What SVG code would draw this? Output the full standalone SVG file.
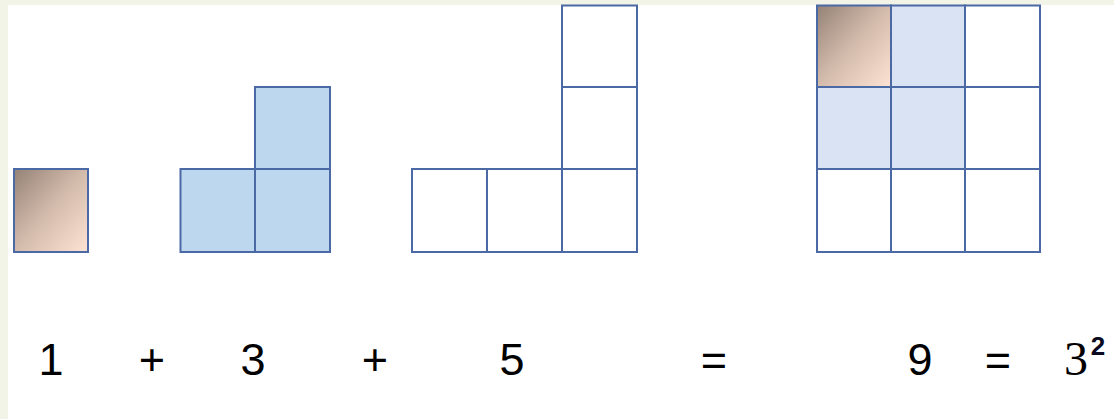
<svg xmlns="http://www.w3.org/2000/svg" width="1114" height="419" viewBox="0 0 1114 419">
<defs>
<linearGradient id="tan" x1="0" y1="0" x2="1" y2="1">
<stop offset="0" stop-color="#958276"/>
<stop offset="0.5" stop-color="#d4bcad"/>
<stop offset="1" stop-color="#fde3d3"/>
</linearGradient>
<style>
.c{stroke:#4a69a5;stroke-width:2;}
.w{fill:#ffffff;}
.b{fill:#bdd7ee;}
.lb{fill:#dae3f3;}
.g{fill:url(#tan);}
.t{font-family:"Liberation Sans",Arial,sans-serif;font-size:45px;fill:#000;text-anchor:middle;}
.s{font-family:"Liberation Serif","Times New Roman",serif;font-size:48px;fill:#000;text-anchor:middle;}
.sup{font-family:"Liberation Sans",Arial,sans-serif;font-size:26px;font-weight:bold;fill:#0a0a20;text-anchor:middle;}
</style>
</defs>
<rect x="0" y="0" width="1114" height="419" fill="#f2f4e8"/>
<rect x="8" y="5" width="1106" height="414" fill="#ffffff"/>
<g id="one">
<rect class="c g" x="14" y="169" width="74" height="83"/>
</g>
<g id="three">
<rect class="c b" x="255" y="87" width="75" height="82"/>
<rect class="c b" x="180.5" y="169" width="74.5" height="83"/>
<rect class="c b" x="255" y="169" width="75" height="83"/>
</g>
<g id="five">
<rect class="c w" x="562" y="5.5" width="75" height="81.5"/>
<rect class="c w" x="562" y="87" width="75" height="82"/>
<rect class="c w" x="412" y="169" width="75" height="83"/>
<rect class="c w" x="487" y="169" width="75" height="83"/>
<rect class="c w" x="562" y="169" width="75" height="83"/>
</g>
<g id="nine">
<rect class="c g" x="817" y="5.5" width="74" height="81.5"/>
<rect class="c lb" x="891" y="5.5" width="74" height="81.5"/>
<rect class="c w" x="965" y="5.5" width="75" height="81.5"/>
<rect class="c lb" x="817" y="87" width="74" height="82"/>
<rect class="c lb" x="891" y="87" width="74" height="82"/>
<rect class="c w" x="965" y="87" width="75" height="82"/>
<rect class="c w" x="817" y="169" width="74" height="83"/>
<rect class="c w" x="891" y="169" width="74" height="83"/>
<rect class="c w" x="965" y="169" width="75" height="83"/>
</g>
<g id="equation">
<text class="t" x="51" y="375">1</text>
<text class="t" x="152" y="375">+</text>
<text class="t" x="253" y="375">3</text>
<text class="t" x="375" y="375">+</text>
<text class="t" x="512" y="375">5</text>
<text class="t" x="714" y="375">=</text>
<text class="t" x="920" y="375">9</text>
<text class="t" x="998" y="375">=</text>
<text class="s" x="1076" y="375">3</text>
<text class="sup" x="1098" y="355">2</text>
</g>
</svg>
